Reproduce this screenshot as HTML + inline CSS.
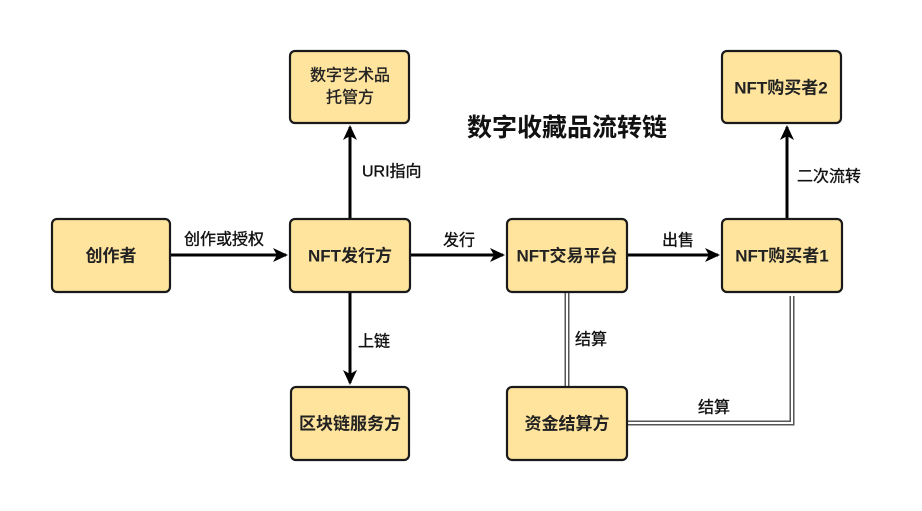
<!DOCTYPE html>
<html><head><meta charset="utf-8"><style>
html,body{margin:0;padding:0;background:#fff;}
svg{display:block;}
.box{fill:#FFE49E;stroke:#1a1a1a;stroke-width:2.2;}
.bt{font-family:"Liberation Sans","Noto Sans CJK SC",sans-serif;font-size:17px;font-weight:bold;fill:#222;}
.bt2{font-family:"Liberation Sans","Noto Sans CJK SC",sans-serif;font-size:16px;fill:#222;stroke:#222;stroke-width:0.35;}
.lb{font-family:"Liberation Sans","Noto Sans CJK SC",sans-serif;font-size:16px;fill:#111;stroke:#111;stroke-width:0.35;}
.ttl{font-family:"Liberation Sans","Noto Sans CJK SC",sans-serif;font-size:25px;font-weight:bold;fill:#111;}
.ar{stroke:#000;stroke-width:3;fill:none;}
</style></head><body>
<svg width="922" height="511" viewBox="0 0 922 511" xmlns="http://www.w3.org/2000/svg">
<defs>
<marker id="ah" markerWidth="15" markerHeight="14" refX="13" refY="7" orient="auto" markerUnits="userSpaceOnUse">
<path d="M0,0 L15,7 L0,14 L4,7 Z" fill="#000"/>
</marker>
</defs>
<rect width="922" height="511" fill="#fff"/>

<!-- double lines -->
<g>
<path d="M567,292 L567,387" stroke="#555" stroke-width="5" fill="none"/>
<path d="M567,292 L567,387" stroke="#fff" stroke-width="2" fill="none"/>
<path d="M627,423 L792,423 L792,296" stroke="#555" stroke-width="5" fill="none"/>
<path d="M627,423 L792,423 L792,296" stroke="#fff" stroke-width="2" fill="none"/>
</g>

<!-- arrows -->
<line class="ar" x1="170" y1="255" x2="286" y2="255" marker-end="url(#ah)"/>
<line class="ar" x1="410" y1="255" x2="503" y2="255" marker-end="url(#ah)"/>
<line class="ar" x1="627" y1="255" x2="718" y2="255" marker-end="url(#ah)"/>
<line class="ar" x1="350" y1="219" x2="350" y2="127" marker-end="url(#ah)"/>
<line class="ar" x1="350" y1="292" x2="350" y2="383" marker-end="url(#ah)"/>
<line class="ar" x1="787" y1="219" x2="787" y2="127" marker-end="url(#ah)"/>

<!-- boxes -->
<rect class="box" x="52" y="219" width="118" height="73" rx="5"/>
<rect class="box" x="290" y="219" width="120" height="73" rx="5"/>
<rect class="box" x="507" y="219" width="120" height="73" rx="5"/>
<rect class="box" x="722" y="219" width="120" height="73" rx="5"/>
<rect class="box" x="290" y="51" width="119" height="72" rx="5"/>
<rect class="box" x="722" y="51" width="119" height="72" rx="5"/>
<rect class="box" x="291" y="387" width="118" height="73" rx="5"/>
<rect class="box" x="507" y="387" width="120" height="73" rx="5"/>

<!-- box text -->
<text class="bt" x="111" y="256" text-anchor="middle" dominant-baseline="central">创作者</text>
<text class="bt" x="350" y="256" text-anchor="middle" dominant-baseline="central">NFT发行方</text>
<text class="bt" x="567" y="256" text-anchor="middle" dominant-baseline="central">NFT交易平台</text>
<text class="bt" x="782" y="256" text-anchor="middle" dominant-baseline="central">NFT购买者1</text>
<text class="bt2" x="350" y="76" text-anchor="middle" dominant-baseline="central">数字艺术品</text>
<text class="bt2" x="350" y="98" text-anchor="middle" dominant-baseline="central">托管方</text>
<text class="bt" x="781" y="88" text-anchor="middle" dominant-baseline="central">NFT购买者2</text>
<text class="bt" x="350" y="424" text-anchor="middle" dominant-baseline="central">区块链服务方</text>
<text class="bt" x="567" y="424" text-anchor="middle" dominant-baseline="central">资金结算方</text>

<!-- labels -->
<text class="lb" x="224" y="240" text-anchor="middle" dominant-baseline="central">创作或授权</text>
<text class="lb" x="459" y="241" text-anchor="middle" dominant-baseline="central">发行</text>
<text class="lb" x="678" y="241" text-anchor="middle" dominant-baseline="central">出售</text>
<text class="lb" x="362" y="172" dominant-baseline="central">URI指向</text>
<text class="lb" x="797" y="177" dominant-baseline="central">二次流转</text>
<text class="lb" x="358" y="342" dominant-baseline="central">上链</text>
<text class="lb" x="575" y="340" dominant-baseline="central">结算</text>
<text class="lb" x="698" y="408" dominant-baseline="central">结算</text>

<text class="ttl" x="567" y="128" text-anchor="middle" dominant-baseline="central">数字收藏品流转链</text>
</svg>
</body></html>
